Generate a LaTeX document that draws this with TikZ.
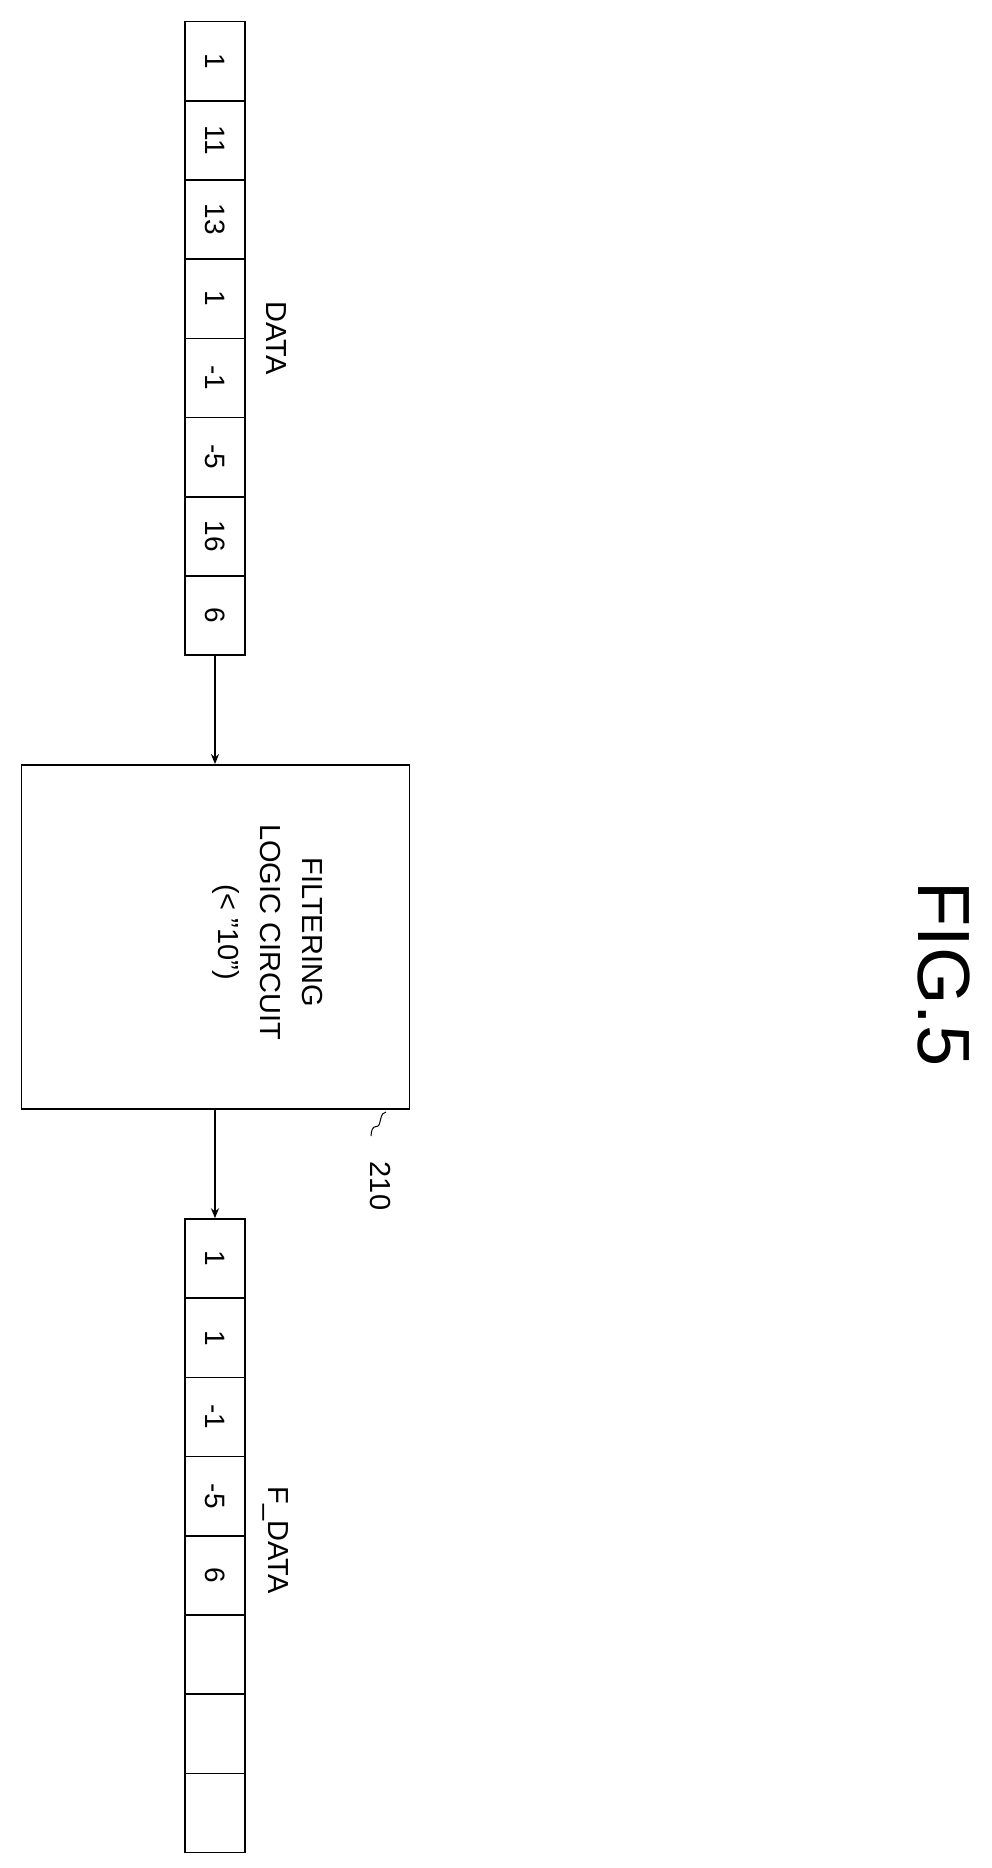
\documentclass[tikz,border=0pt]{standalone}
\usepackage{fontspec}
\setmainfont{Liberation Sans}
\usetikzlibrary{positioning,arrows.meta}
\tikzset{
  cell/.style={draw,line width=1.6pt,minimum width=60pt,minimum height=79.2pt,inner sep=0pt,font=\fontsize{28}{30}\selectfont},
  rtext/.style={rotate=-90,inner sep=0pt,font=\fontsize{29}{34}\selectfont},
  flow/.style={-{Stealth[length=10pt,width=8pt]},line width=1.8pt}}
\begin{document}
\begin{tikzpicture}[x=1pt,y=1pt]
\useasboundingbox (0,0) rectangle (992,-1868);
    % input data
    \foreach \v [count=\i] in {1,11,13,1,-1,-5,16,6}
        \node (d\i)[cell] at (215,-21.5-79.2*\i+39.6) {\rotatebox{-90}{\v}};
    \node (dl)[rtext] at (276,-338) {DATA};
    % filter block
    \node (flt)[draw,line width=1.8pt,minimum width=388pt,minimum height=344pt,inner sep=0pt] at (215.5,-937) {};
    \node (fl1)[rtext] at (312,-932) {FILTERING};
    \node (fl2)[rtext] at (270,-932) {LOGIC CIRCUIT};
    \node (fl3)[rtext] at (226,-932) {(< "10")};
    \node (ref)[rtext] at (380,-1186) {210};
    \draw[line width=1pt] (386,-1112) .. controls (380,-1112) and (381,-1124) .. (378,-1126) .. controls (375,-1128) and (372,-1124) .. (371,-1136);
    % output data
    \foreach \v [count=\i] in {1,1,-1,-5,6,{},{},{}}
        \node (f\i)[cell] at (215,-1219-79.2*\i+39.6) {\rotatebox{-90}{\v}};
    \node (fdl)[rtext] at (276,-1540) {F\_DATA};
    \node (fig)[rotate=-90,inner sep=0pt,font=\fontsize{74}{80}\selectfont] at (944,-974) {FIG.5};
    \draw[flow] (d8.south) -- (d8.south |- flt.north);
    \draw[flow] (f1.north |- flt.south) -- (f1.north);
\end{tikzpicture}
\end{document}
